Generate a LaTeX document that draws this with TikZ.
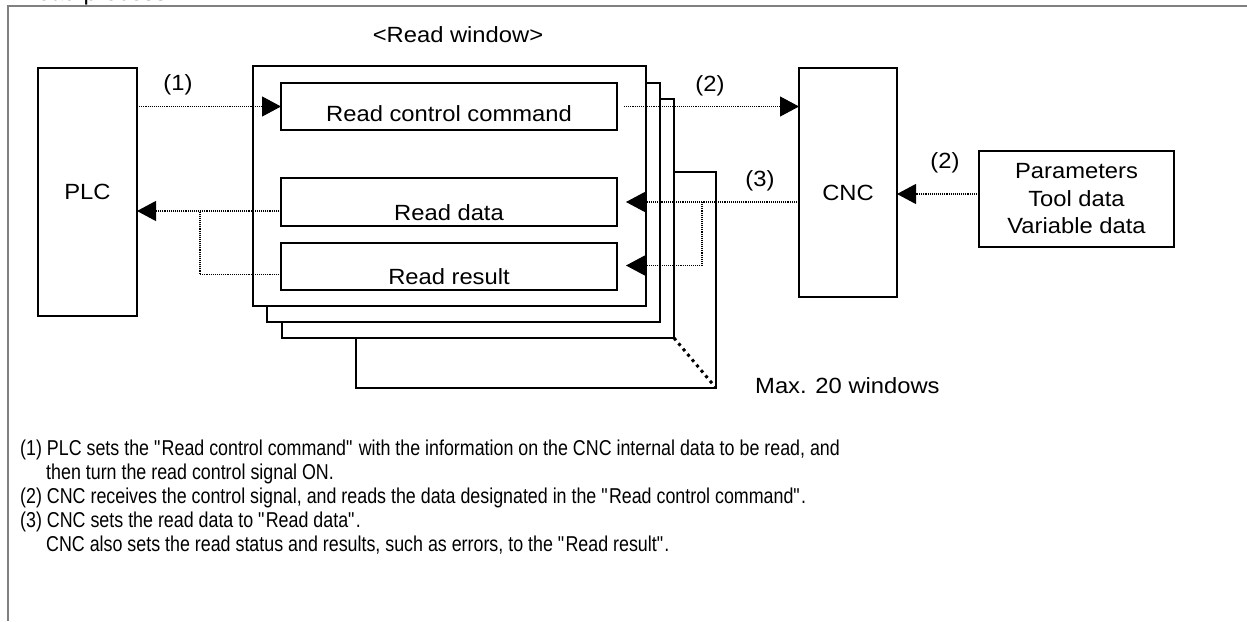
\documentclass[tikz,border=0pt]{standalone}
\usepackage{fontspec}
\setmainfont{Liberation Sans}
\newfontfamily\diagfont[FakeStretch=1.08]{Liberation Sans}
\newfontfamily\notefont[FakeStretch=0.83]{Liberation Sans}
\newcommand{\dq}{\textquotedbl}
\usepackage{tikz}
\usetikzlibrary{arrows.meta, positioning}

\begin{document}
\begin{tikzpicture}[
    x=1pt, y=-1pt,
    % Styles
    unit/.style={
        rectangle,
        draw=black,
        line width=1.3pt,
        fill=white,
        inner sep=0pt,
        outer sep=0pt,
        align=center,
        font=\diagfont\fontsize{22}{27.5}\selectfont
    },
    field/.style={
        unit,
        minimum width=336pt,
        minimum height=47pt,
        text height=#1,
        text depth=0pt
    },
    tag/.style={
        font=\diagfont\fontsize{22}{26}\selectfont,
        inner sep=0pt
    },
    note/.style={
        anchor=base west,
        inner sep=0pt,
        font=\notefont\fontsize{21.5}{24}\selectfont
    },
    flow/.style={
        dash pattern=on 1.1pt off 1pt,
        line width=1.1pt,
        -{Triangle[length=19pt,width=20pt]}
    },
    link/.style={
        dash pattern=on 1.1pt off 1pt,
        line width=1.1pt
    }
]
\useasboundingbox (0,0) rectangle (1247,621);

% Frame and cut title
\draw[gray, line width=2pt] (8,621) -- (8,6) -- (1247,6);
\node[tag, anchor=base west] (title) at (20,0.5) {Read process};

% PLC and CNC
\node[unit, minimum width=99pt, minimum height=248pt] (plc) at (87.5,192) {PLC};
\node[unit, minimum width=98pt, minimum height=229pt, text height=35pt, text depth=0pt] (cnc) at (848,182.5) {CNC};
\node[unit, minimum width=195pt, minimum height=96pt] (params) at (1076.5,199)
    {Parameters\\Tool data\\Variable data};

% Stacked read windows (back to front)
\node[unit, minimum width=360pt, minimum height=216pt] (win4) at (536,280) {};
\node[unit, minimum width=392pt, minimum height=239pt] (win3) at (478,218.5) {};
\node[unit, minimum width=393pt, minimum height=239pt] (win2) at (463.5,202.5) {};
\node[unit, minimum width=393pt, minimum height=240pt] (win1) at (449.5,186) {};
\draw[line width=3pt, dash pattern=on 3pt off 4pt] (win3.south east) -- (win4.south east);
\node[tag] (wintitle) at (458,35) {<Read window>};
\node[tag, anchor=west] (maxwin) at (755,386) {Max. 20 windows};

% Fields of the front window
\node[field=29pt] (cmd) at (449,106.5) {Read control command};
\node[field=36pt, minimum height=48pt] (rdata) at (449,202) {Read data};
\node[field=35pt] (rresult) at (449,266.5) {Read result};

% (1) PLC -> command
\draw[flow] (plc.east |- cmd.west) -- (cmd.west);
\node[tag] (step1) at (178,85) {(1)};

% (2) command -> CNC, data -> CNC
\draw[flow] ([xshift=7pt]cmd.east) -- (cmd.east -| cnc.west);
\node[tag] (step2a) at (710,86) {(2)};
\draw[flow] ([yshift=5pt]params.west) -- ([yshift=5pt]params.west -| cnc.east);
\node[tag] (step2b) at (945,163) {(2)};

% (3) CNC -> data and result
\draw[flow] (cnc.west |- rdata.east) -- ([xshift=9pt]rdata.east);
\draw[flow] ([xshift=85pt]rdata.east) |- ([xshift=9pt,yshift=1pt]rresult.east);
\node[tag] (step3) at (760,181) {(3)};

% data and result -> PLC
\draw[flow] ([yshift=-9pt]rdata.west) -- ([yshift=-9pt]rdata.west -| plc.east);
\draw[link] ([yshift=-8pt]rresult.west) -| ([xshift=-81pt,yshift=-9pt]rdata.west);

% Notes
\node[note] (note1a) at (20,455.5) {(1) PLC sets the \dq Read control command\dq{} with the information on the CNC internal data to be read, and};
\node[note] (note1b) at (46,479.5) {then turn the read control signal ON.};
\node[note] (note2) at (20,503.5) {(2) CNC receives the control signal, and reads the data designated in the \dq Read control command\dq.};
\node[note] (note3a) at (20,527.5) {(3) CNC sets the read data to \dq Read data\dq.};
\node[note] (note3b) at (46,551.5) {CNC also sets the read status and results, such as errors, to the \dq Read result\dq.};

\end{tikzpicture}
\end{document}
